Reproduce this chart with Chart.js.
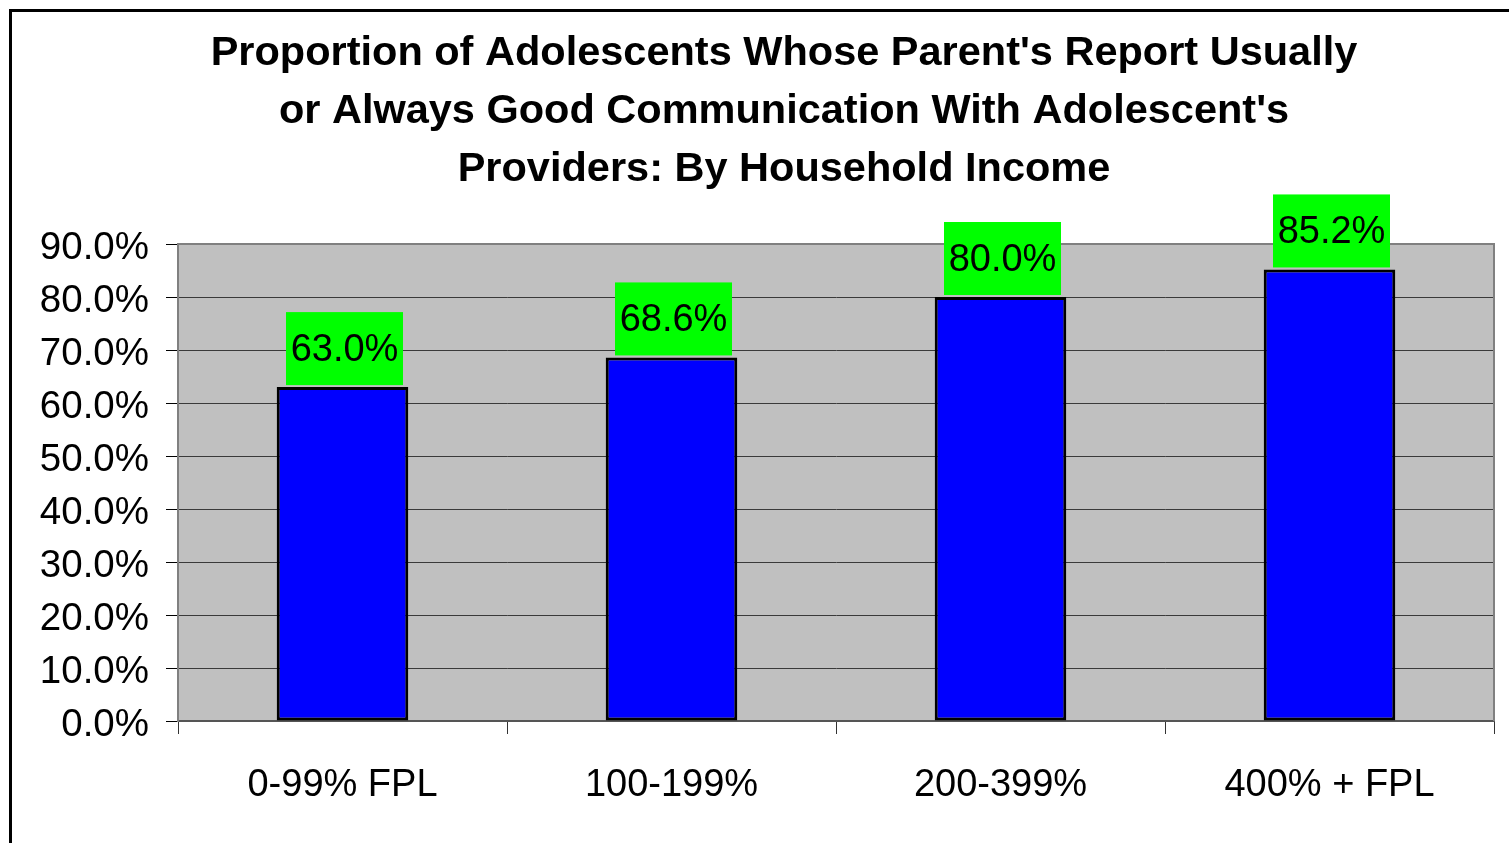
<!DOCTYPE html>
<html lang="en">
<head>
    <meta charset="UTF-8">
    <title>Good communication with providers by household income</title>
    <script src="https://cdn.jsdelivr.net/npm/chart.js"></script>
</head>
<body style="margin:0;background:#fff;overflow:hidden;">
    <div style="position:absolute;left:9px;top:9px;width:1544px;height:860px;border:3px solid #000;background:#fff;">
        <canvas id="chart" width="1544" height="860" style="display:block;"></canvas>
    </div>
    <script>
        const incomeGroups = ['0-99% FPL', '100-199%', '200-399%', '400% + FPL'];
        const goodCommunication = [63.0, 68.6, 80.0, 85.2];
        const titleLines = [
            "Proportion of Adolescents Whose Parent's Report Usually",
            "or Always Good Communication With Adolescent's",
            "Providers: By Household Income"
        ];
        const yMax = 90;
        const yStep = 10;

        const FONT = 'Liberation Sans, Arial, sans-serif';

        // grey plot background + border
        const plotBox = {
            id: 'plotBox',
            beforeDraw(chart) {
                const a = chart.chartArea, ctx = chart.ctx;
                ctx.save();
                ctx.fillStyle = '#c0c0c0';
                ctx.fillRect(a.left, a.top, a.right - a.left, a.bottom - a.top);
                ctx.restore();
            },
            beforeDatasetsDraw(chart) {
                const a = chart.chartArea, ctx = chart.ctx;
                ctx.save();
                ctx.strokeStyle = '#808080';
                ctx.lineWidth = 2;
                ctx.beginPath();
                ctx.moveTo(a.left, a.top);
                ctx.lineTo(a.right, a.top);
                ctx.lineTo(a.right, a.bottom);
                ctx.stroke();
                ctx.restore();
            }
        };

        // green value boxes sitting on top of each bar
        const valueBoxes = {
            id: 'valueBoxes',
            afterDatasetsDraw(chart) {
                const ctx = chart.ctx;
                const meta = chart.getDatasetMeta(0);
                ctx.save();
                ctx.font = '38px ' + FONT;
                ctx.textAlign = 'center';
                ctx.textBaseline = 'middle';
                meta.data.forEach((bar, i) => {
                    const w = 117, h = 73;
                    const x = bar.x + 2 - w / 2;
                    const y = bar.y - 2 - h;
                    ctx.fillStyle = '#00ff00';
                    ctx.fillRect(x, y, w, h);
                    ctx.fillStyle = '#000';
                    ctx.fillText(goodCommunication[i].toFixed(1) + '%', bar.x + 2, y + h / 2 + 2);
                });
                ctx.restore();
            }
        };

        new Chart(document.getElementById('chart'), {
            type: 'bar',
            data: {
                labels: incomeGroups,
                datasets: [{
                    data: goodCommunication,
                    backgroundColor: '#0000ff',
                    borderColor: '#000',
                    borderWidth: 3,
                    borderSkipped: false,
                    barPercentage: 0.4,
                    categoryPercentage: 1
                }]
            },
            options: {
                responsive: false,
                animation: false,
                layout: { padding: 0 },
                plugins: {
                    legend: { display: false },
                    tooltip: { enabled: false },
                    title: {
                        display: true,
                        text: titleLines,
                        color: '#000',
                        font: { family: FONT, size: 41.5, weight: 'bold', lineHeight: 58 / 41.5 },
                        padding: { top: 13, bottom: 45 }
                    }
                },
                scales: {
                    x: {
                        offset: true,
                        grid: { offset: true, drawOnChartArea: false, tickLength: 13, tickColor: '#333', tickWidth: 1 },
                        border: { color: '#555', width: 2 },
                        ticks: { color: '#000', font: { family: FONT, size: 38 }, padding: 29, maxRotation: 0 },
                        afterFit(scale) { scale.height = 860 - 709; }
                    },
                    y: {
                        min: 0,
                        max: yMax,
                        grid: { color: '#3a3a3a', lineWidth: 1, tickLength: 12, tickColor: '#000' },
                        border: { color: '#808080', width: 2 },
                        ticks: {
                            stepSize: yStep,
                            color: '#000',
                            font: { family: FONT, size: 38.5 },
                            padding: 17,
                            labelOffset: 4,
                            callback: v => v.toFixed(1) + '%'
                        },
                        afterFit(scale) { scale.width = 166; }
                    },
                    // empty right-hand axis, only reserves the margin right of the plot
                    yRight: {
                        position: 'right',
                        min: 0,
                        max: yMax,
                        grid: { display: false },
                        border: { display: false },
                        ticks: { display: false },
                        afterFit(scale) { scale.width = 62; }
                    }
                }
            },
            plugins: [plotBox, valueBoxes]
        });
    </script>
</body>
</html>
